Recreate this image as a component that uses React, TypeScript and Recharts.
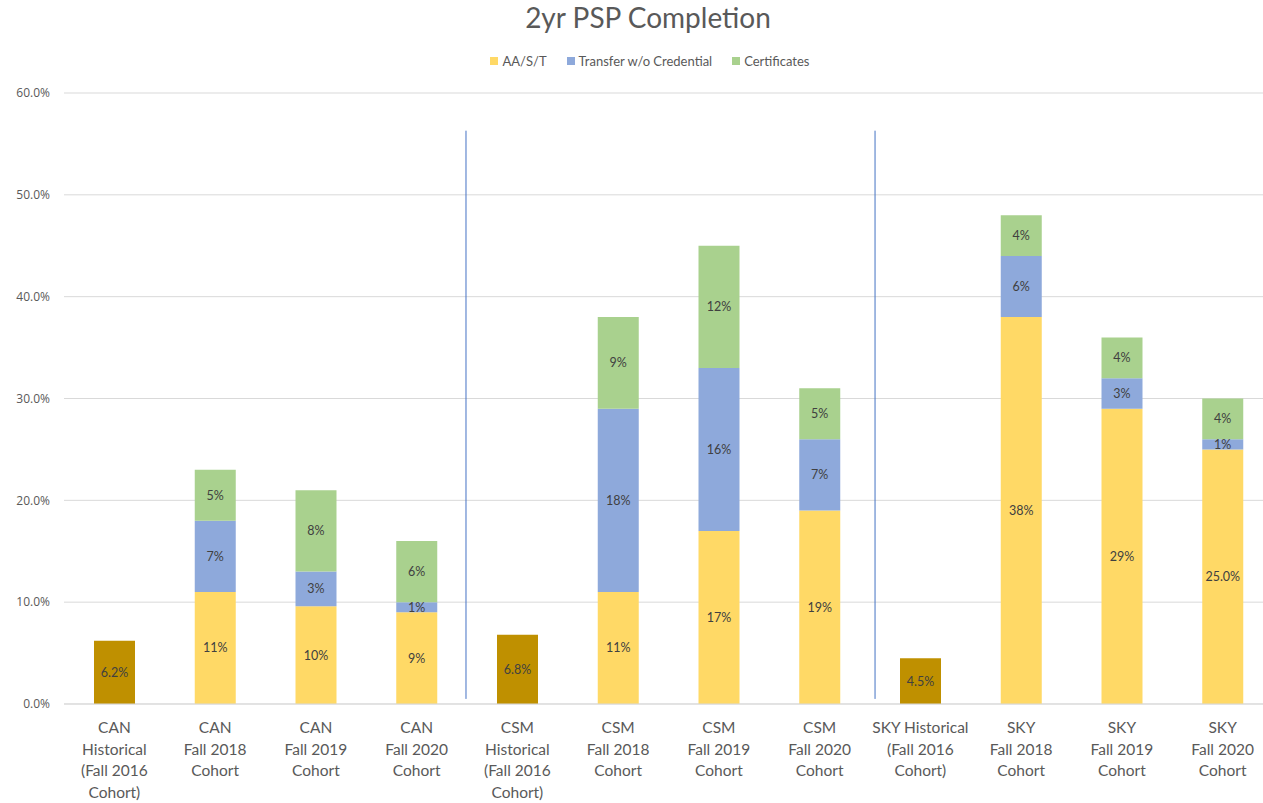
import React from "react";
import {
  BarChart,
  Bar,
  XAxis,
  YAxis,
  CartesianGrid,
  LabelList,
  ReferenceLine,
} from "recharts";

// ---- data ----
const categories = [
  "CAN|Historical|(Fall 2016|Cohort)",
  "CAN|Fall 2018|Cohort",
  "CAN|Fall 2019|Cohort",
  "CAN|Fall 2020|Cohort",
  "CSM|Historical|(Fall 2016|Cohort)",
  "CSM|Fall 2018|Cohort",
  "CSM|Fall 2019|Cohort",
  "CSM|Fall 2020|Cohort",
  "SKY Historical|(Fall 2016|Cohort)",
  "SKY|Fall 2018|Cohort",
  "SKY|Fall 2019|Cohort",
  "SKY|Fall 2020|Cohort",
];
const historical = [6.2, null, null, null, 6.8, null, null, null, 4.5, null, null, null];
const aast = [null, 11, 9.6, 9, null, 11, 17, 19, null, 38, 29, 25];
const aastDecimals = [0, 0, 0, 0, 0, 0, 0, 0, 0, 0, 0, 1];
const transfer = [null, 7, 3.4, 1, null, 18, 16, 7, null, 6, 3, 1];
const certificates = [null, 5, 8, 6, null, 9, 12, 5, null, 4, 4, 4];
const yTicks = [0, 10, 20, 30, 40, 50, 60];
// separators: placed after category index, offset as fraction of a band
const separators = [
  { after: 3, offset: 0.49 },
  { after: 7, offset: 0.55 },
];
const separatorSpan = [0.5, 56.3];

const COLORS = {
  hist: "#BF9000",
  aast: "#FFD966",
  transfer: "#8EA9DB",
  cert: "#A9D18E",
};

const fmt = (v: number | null, d: number) => (v == null ? "" : `${v.toFixed(d)}%`);

const data = categories.map((c, i) => ({
  name: c,
  hist: historical[i],
  aast: aast[i],
  transfer: transfer[i],
  cert: certificates[i],
  histLabel: fmt(historical[i], 1),
  aastLabel: fmt(aast[i], aastDecimals[i]),
  transferLabel: fmt(transfer[i], 0),
  certLabel: fmt(certificates[i], 0),
}));

const FONT = "Lato, 'Open Sans', sans-serif";
const TEXT = "#595959";

const CHART_W = 1300;
const MARGIN = { top: 93, right: 27, bottom: 0, left: 0 };
const Y_W = 64;
const BAND = (CHART_W - MARGIN.right - MARGIN.left - Y_W) / categories.length;

const XTick = (props: any) => {
  const { x, y, payload } = props;
  const lines = String(payload.value).split("|");
  return (
    <g transform={`translate(${x},${y})`}>
      {lines.map((l, i) => (
        <text
          key={i}
          x={0}
          y={21 + i * 21.5}
          textAnchor="middle"
          fill={TEXT}
          fontSize={15.5}
          fontFamily={FONT}
        >
          {l}
        </text>
      ))}
    </g>
  );
};

const legendItems = [
  { label: "AA/S/T", color: COLORS.aast },
  { label: "Transfer w/o Credential", color: COLORS.transfer },
  { label: "Certificates", color: COLORS.cert },
];

const labelStyle = { fill: "#404040", fontSize: 12.5, fontFamily: FONT };

const makeSepShape = (offset: number) => (p: any) => {
  const dx = offset * BAND;
  return (
    <line
      x1={p.x1 + dx}
      y1={p.y1}
      x2={p.x2 + dx}
      y2={p.y2}
      stroke="#4472C4"
      strokeWidth={1}
    />
  );
};

export default function App() {
  return (
    <div
      style={{
        position: "absolute",
        left: 0,
        top: 0,
        width: 1263,
        height: 803,
        overflow: "hidden",
        background: "#fff",
      }}
    >
      <div
        style={{
          position: "absolute",
          left: 0,
          top: 0,
          width: 1296,
          textAlign: "center",
          fontFamily: FONT,
          fontSize: 28,
          color: TEXT,
          zIndex: 2,
        }}
      >
        2yr PSP Completion
      </div>
      <div
        style={{
          position: "absolute",
          left: 0,
          top: 53,
          width: CHART_W,
          display: "flex",
          justifyContent: "center",
          gap: 20,
          fontFamily: FONT,
          fontSize: 13,
          color: TEXT,
          zIndex: 2,
        }}
      >
        {legendItems.map((it) => (
          <div key={it.label} style={{ display: "flex", alignItems: "center" }}>
            <span
              style={{
                display: "inline-block",
                width: 8,
                height: 8,
                background: it.color,
                marginRight: 4,
              }}
            />
            {it.label}
          </div>
        ))}
      </div>
      <BarChart
        width={CHART_W}
        height={803}
        data={data}
        margin={MARGIN}
        barSize={41}
      >
        <CartesianGrid vertical={false} stroke="#D9D9D9" />
        <XAxis
          dataKey="name"
          tick={<XTick />}
          tickLine={false}
          axisLine={{ stroke: "#D9D9D9" }}
          height={99}
          interval={0}
        />
        <YAxis
          domain={[0, 60]}
          ticks={yTicks}
          width={Y_W}
          tickFormatter={(v: number) => `${v.toFixed(1)}%`}
          tick={{ fill: TEXT, fontSize: 12, fontFamily: "'Open Sans', sans-serif" }}
          axisLine={false}
          tickLine={false}
          tickMargin={8}
        />
        <Bar dataKey="hist" stackId="a" fill={COLORS.hist} legendType="none" isAnimationActive={false}>
          <LabelList dataKey="histLabel" position="center" style={labelStyle} />
        </Bar>
        <Bar dataKey="aast" name="AA/S/T" stackId="a" fill={COLORS.aast} isAnimationActive={false}>
          <LabelList dataKey="aastLabel" position="center" style={labelStyle} />
        </Bar>
        <Bar dataKey="transfer" name="Transfer w/o Credential" stackId="a" fill={COLORS.transfer} isAnimationActive={false}>
          <LabelList dataKey="transferLabel" position="center" style={labelStyle} />
        </Bar>
        <Bar dataKey="cert" name="Certificates" stackId="a" fill={COLORS.cert} isAnimationActive={false}>
          <LabelList dataKey="certLabel" position="center" style={labelStyle} />
        </Bar>
        {separators.map((s) => (
          <ReferenceLine
            key={s.after}
            segment={[
              { x: categories[s.after], y: separatorSpan[0] },
              { x: categories[s.after], y: separatorSpan[1] },
            ]}
            stroke="#4472C4"
            strokeWidth={1}
            ifOverflow="visible"
            shape={makeSepShape(s.offset)}
          />
        ))}
      </BarChart>
    </div>
  );
}
